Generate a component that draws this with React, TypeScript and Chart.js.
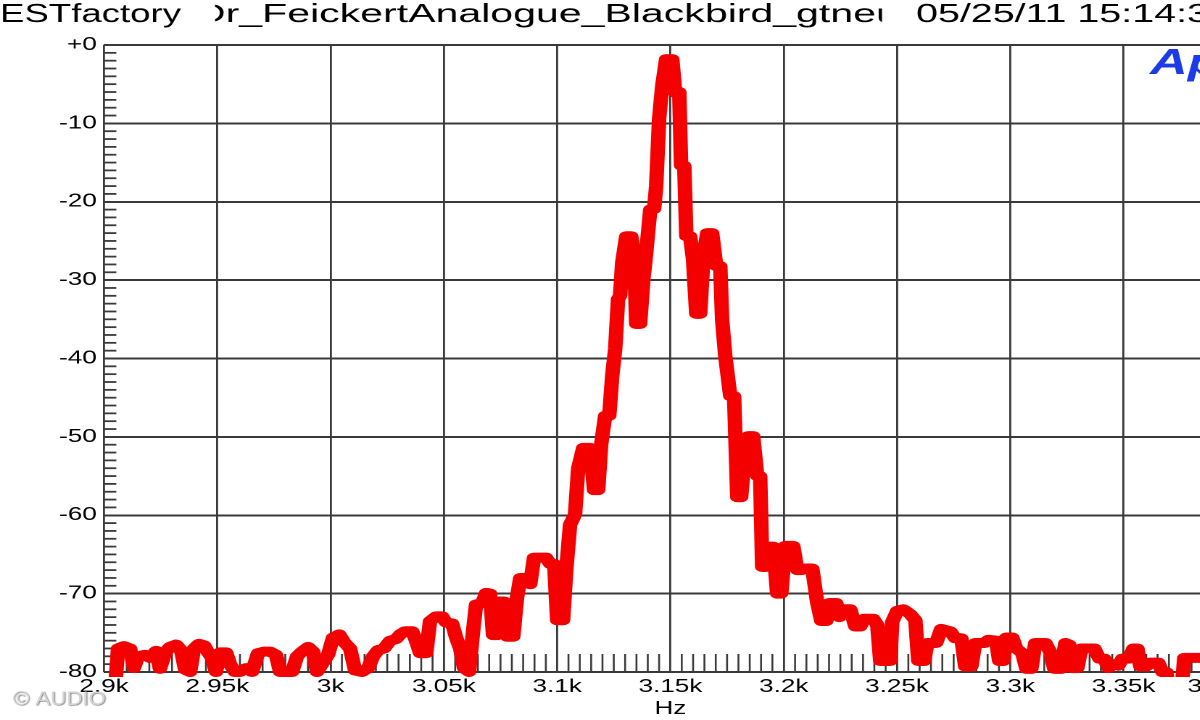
import React, { useEffect, useRef } from 'react';
import { Chart, registerables } from 'chart.js';

Chart.register(...registerables);

// ---------- data ----------
const FREQS: number[] = [
  2904.9, 2906.2, 2908.8, 2911.5, 2913.2, 2915.0, 2918.1, 2920.3, 2923.0, 2924.7,
  2926.9, 2929.1, 2931.8, 2934.0, 2935.8, 2938.0, 2939.7, 2941.9, 2944.2, 2945.9,
  2947.7, 2949.4, 2951.2, 2953.9, 2955.6, 2957.8, 2960.0, 2962.7, 2965.3, 2968.0,
  2970.6, 2973.3, 2975.9, 2977.7, 2980.4, 2983.0, 2985.2, 2987.4, 2990.1, 2992.3,
  2994.0, 2996.2, 2998.9, 3001.1, 3003.8, 3006.0, 3008.6, 3010.8, 3013.9, 3016.6,
  3018.8, 3021.0, 3023.6, 3026.3, 3028.9, 3030.7, 3032.9, 3036.0, 3037.7, 3039.5,
  3042.2, 3043.9, 3046.6, 3049.2, 3051.0, 3053.6, 3055.4, 3057.2, 3058.9, 3061.1,
  3062.9, 3064.2, 3066.9, 3068.7, 3070.4, 3071.7, 3073.5, 3074.4, 3076.6, 3077.9,
  3080.6, 3082.3, 3083.7, 3086.3, 3088.1, 3089.8, 3092.5, 3095.1, 3096.9, 3098.7,
  3100.0, 3102.6, 3104.0, 3105.7, 3107.9, 3109.3, 3111.5, 3114.6, 3116.3, 3118.1,
  3119.4, 3121.2, 3123.0, 3124.3, 3125.6, 3126.9, 3127.8, 3128.7, 3130.5, 3132.7,
  3134.0, 3134.9, 3136.6, 3138.0, 3139.3, 3141.1, 3142.8, 3143.7, 3145.0, 3146.4,
  3148.1, 3150.8, 3152.1, 3153.9, 3154.7, 3156.1, 3157.0, 3158.7, 3160.0, 3161.4,
  3163.1, 3164.5, 3166.2, 3168.4, 3170.2, 3172.0, 3172.8, 3174.2, 3176.4, 3178.1,
  3179.5, 3181.2, 3182.6, 3184.3, 3186.5, 3188.3, 3189.6, 3190.5, 3191.8, 3193.2,
  3195.4, 3197.1, 3198.9, 3200.7, 3204.2, 3206.0, 3207.7, 3209.5, 3212.6, 3214.8,
  3216.6, 3218.8, 3220.1, 3223.2, 3224.5, 3225.8, 3229.4, 3231.6, 3233.8, 3235.5,
  3239.5, 3241.3, 3242.6, 3247.0, 3247.9, 3250.1, 3252.8, 3255.8, 3258.1, 3259.4,
  3262.0, 3263.4, 3267.3, 3269.5, 3273.5, 3275.7, 3278.4, 3280.1, 3282.8, 3284.5,
  3288.5, 3290.3, 3293.8, 3295.1, 3296.9, 3298.2, 3300.9, 3302.6, 3305.3, 3307.1,
  3309.3, 3311.0, 3315.5, 3317.7, 3319.4, 3322.5, 3324.3, 3326.0, 3327.4, 3329.6,
  3331.3, 3337.1, 3339.3, 3341.5, 3343.3, 3345.5, 3347.7, 3349.4, 3352.5, 3354.3,
  3356.1, 3357.4, 3360.0, 3361.8, 3365.3, 3367.1, 3368.9, 3370.6, 3375.1, 3376.8,
  3383.9, 3390.5,
];

const LEVELS: number[] = [
  -82, -77, -76.7, -77, -79.5, -78, -77.8, -78.2, -77.3, -79.6,
  -77.6, -76.8, -76.5, -77.2, -79.7, -80, -77, -76.4, -76.6, -77.5,
  -78.2, -80, -77.5, -77.5, -79, -80, -80, -79.5, -80, -77.6,
  -77.4, -77.4, -77.8, -80, -80, -80, -78, -77.4, -76.8, -77.4,
  -80, -79, -77.8, -75.6, -75.2, -76.2, -77, -79.8, -80, -79.5,
  -78, -77.2, -77, -76, -75.8, -75.2, -74.8, -74.8, -76, -77.6,
  -77.6, -73.5, -72.9, -72.9, -73.7, -73.8, -75.6, -77, -79.5, -80,
  -74.8, -71.4, -71.2, -69.9, -70, -75.3, -75.3, -71, -71, -75.5,
  -75.5, -70.5, -68, -68, -68.8, -65.4, -65.4, -65.4, -66.2, -66.2,
  -73.4, -73.4, -67, -61.2, -59.9, -54, -51.4, -51.4, -56.8, -56.8,
  -51, -47.3, -47.3, -42.2, -38.8, -32.4, -32, -27.8, -24.4, -24.4,
  -27, -35.6, -35.6, -30, -26.5, -21, -20.9, -18, -9.4, -5.2,
  -1.8, -1.8, -6.1, -6, -15.4, -15.4, -24.4, -24.4, -27.4, -34.3,
  -34.3, -27.3, -24, -24, -28.2, -28.2, -35, -39.7, -44.8, -44.8,
  -57.7, -57.7, -52.8, -49.9, -49.9, -55, -55, -66.6, -66.6, -64,
  -64, -70, -70, -63.9, -63.9, -67, -67, -66.8, -66.8, -71.2,
  -73.5, -73.5, -71.2, -71.2, -73, -72, -72, -74.2, -74.2, -73.2,
  -73.2, -74, -78.6, -78.6, -73.6, -72.2, -72, -72.6, -73.4, -78.6,
  -78.6, -76.3, -76.3, -74.5, -74.8, -75.7, -75.7, -79.3, -79.3, -76.3,
  -76.3, -75.9, -76, -78.6, -78.6, -75.6, -75.6, -77, -77.6, -79.6,
  -79.6, -76.3, -76.3, -77.5, -79.6, -79.6, -76.3, -76.5, -79.5, -79.5,
  -77, -77, -78.3, -78.3, -79.5, -79, -79.2, -78.3, -78.3, -77,
  -77, -79.3, -79.3, -78.8, -78.8, -80, -80, -84, -84, -78.2,
  -78.2, -78.5,
];

const X_MIN = 2900;
const X_MAX = 3400;
const X_STEP = 50;
const X_MINOR_STEP = 5;
const Y_MIN = -80;
const Y_MAX = 0;
const Y_STEP = 10;
const Y_MINOR_STEP = 1;

const TITLE_LEFT = 'TESTfactory';
const TITLE_MIDDLE = 'Dr_FeickertAnalogue_Blackbird_gtneu';
const TITLE_RIGHT = '05/25/11 15:14:3';
const X_TITLE = 'Hz';
const LOGO_TEXT = 'Ap';
const WATERMARK = '\u00A9 AUDIO';

// ---------- styling ----------
const S = 1.45; // horizontal stretch of the reference picture
const CW = 880;
const CH = 720;
const FONT = "'Liberation Sans', Arial, Helvetica, sans-serif";
const GRID = '#3a3a3a';
const RED = '#f50000';
const X_TICK_PAD = 4;
const TICK_FONT_SIZE = 18;

const fmtX = (v: number) => String(Math.round(v) / 1000) + 'k';
const fmtY = (v: number) => (v === 0 ? '+0' : String(v));

function drawSpan(
  ctx: CanvasRenderingContext2D,
  text: string,
  prefix: string,
  span: string,
  x0: number,
  x1: number,
  baseline: number,
) {
  const wSpan = ctx.measureText(span).width;
  const k = (x1 - x0) / wSpan;
  const wPre = ctx.measureText(prefix).width * k;
  ctx.save();
  ctx.translate(x0 - wPre, baseline);
  ctx.scale(k, 1);
  ctx.fillText(text, 0, 0);
  ctx.restore();
}

const overlayPlugin = {
  id: 'apOverlay',
  beforeDatasetsDraw(chart: any) {
    const { ctx, chartArea, scales } = chart;
    const { left, bottom } = chartArea;
    const xs = scales.x;
    const ys = scales.y;
    ctx.save();
    ctx.strokeStyle = GRID;
    ctx.lineWidth = 1.8;
    for (let v = Y_MIN; v <= Y_MAX; v += Y_MINOR_STEP) {
      if (v % Y_STEP === 0) continue;
      const py = ys.getPixelForValue(v);
      ctx.beginPath();
      ctx.moveTo(left, py);
      ctx.lineTo(left + 8.5, py);
      ctx.stroke();
    }
    ctx.lineWidth = 1.3;
    for (let f = X_MIN; f <= X_MAX; f += X_MINOR_STEP) {
      if (f % X_STEP === 0) continue;
      const px = xs.getPixelForValue(f);
      ctx.beginPath();
      ctx.moveTo(px, bottom);
      ctx.lineTo(px, bottom - 18);
      ctx.stroke();
    }
    ctx.restore();
  },
  afterDraw(chart: any) {
    const { ctx, chartArea, scales } = chart;
    ctx.save();
    ctx.fillStyle = '#000';
    ctx.textBaseline = 'alphabetic';
    ctx.textAlign = 'left';
    ctx.font = `26px ${FONT}`;
    // title fields
    drawSpan(ctx, TITLE_LEFT, 'T', 'ESTfactory', 0, 181 / S, 22);
    ctx.save();
    ctx.beginPath();
    ctx.rect(215 / S, 0, (882 - 215) / S, 40);
    ctx.clip();
    drawSpan(ctx, TITLE_MIDDLE, '', 'Dr_FeickertAnalogue_Blackbird_gtne', 196 / S, 876 / S, 22);
    ctx.restore();
    drawSpan(ctx, TITLE_RIGHT, '', '05/25/11 15:14:', 916 / S, 1187 / S, 22);

    // last x tick label, right-aligned at the axis end
    ctx.font = `${TICK_FONT_SIZE}px ${FONT}`;
    ctx.textAlign = 'right';
    ctx.textBaseline = 'middle';
    ctx.fillStyle = '#000';
    ctx.fillText(
      fmtX(X_MAX),
      scales.x.getPixelForValue(X_MAX),
      chartArea.bottom + X_TICK_PAD + (TICK_FONT_SIZE * 1.2) / 2,
    );

    // logo
    ctx.textAlign = 'left';
    ctx.textBaseline = 'alphabetic';
    ctx.font = `italic bold 36px ${FONT}`;
    ctx.fillStyle = '#1a3be6';
    ctx.fillText(LOGO_TEXT, 1150 / S, 74);

    // watermark
    ctx.font = `19px ${FONT}`;
    ctx.shadowColor = 'rgba(0,0,0,0.6)';
    ctx.shadowBlur = 2;
    ctx.shadowOffsetX = 1;
    ctx.shadowOffsetY = 1;
    ctx.fillStyle = '#d4d4d4';
    drawSpan(ctx, WATERMARK, '', WATERMARK, 13 / S, 106 / S, 705);
    ctx.restore();
  },
};

export default function App() {
  const canvasRef = useRef<HTMLCanvasElement | null>(null);

  useEffect(() => {
    const canvas = canvasRef.current;
    if (!canvas) return;
    const points = FREQS.map((f, i) => ({ x: f, y: LEVELS[i] }));
    const chart = new Chart(canvas, {
      type: 'line',
      data: {
        datasets: [
          {
            data: points,
            borderColor: RED,
            backgroundColor: RED,
            borderWidth: 10,
            pointRadius: 0,
            tension: 0,
            borderJoinStyle: 'round',
            borderCapStyle: 'round',
            fill: false,
            clip: { left: 0, top: 8, right: 0, bottom: 5 },
          } as any,
        ],
      },
      options: {
        responsive: false,
        animation: false,
        devicePixelRatio: 2,
        layout: { padding: { left: 0, top: 45, right: CW - 853, bottom: 0 } },
        plugins: {
          legend: { display: false },
          tooltip: { enabled: false },
          title: { display: false },
        },
        scales: {
          x: {
            type: 'linear',
            min: X_MIN,
            max: X_MAX,
            ticks: {
              stepSize: X_STEP,
              autoSkip: false,
              maxRotation: 0,
              minRotation: 0,
              padding: X_TICK_PAD,
              color: '#000',
              font: { family: FONT, size: TICK_FONT_SIZE },
              callback: (v: any) => (Number(v) === X_MAX ? '' : fmtX(Number(v))),
            },
            grid: { color: GRID, lineWidth: 1.4, drawTicks: false },
            border: { display: false },
            title: {
              display: true,
              text: X_TITLE,
              color: '#000',
              font: { family: FONT, size: 18 },
              padding: { top: 0, bottom: 0 },
            },
            afterFit: (s: any) => {
              s.height = CH - 672;
            },
          },
          y: {
            type: 'linear',
            min: Y_MIN,
            max: Y_MAX,
            ticks: {
              stepSize: Y_STEP,
              padding: 5,
              color: '#000',
              font: { family: FONT, size: TICK_FONT_SIZE },
              callback: (v: any) => fmtY(Number(v)),
            },
            grid: { color: GRID, lineWidth: 2, drawTicks: false },
            border: { display: false },
            afterFit: (s: any) => {
              s.width = 104 / S;
            },
          },
        },
      } as any,
      plugins: [overlayPlugin],
    });
    return () => chart.destroy();
  }, []);

  return (
    <div
      style={{
        position: 'fixed',
        left: 0,
        top: 0,
        width: 1200,
        height: 720,
        overflow: 'hidden',
        background: '#fff',
      }}
    >
      <div
        style={{
          position: 'absolute',
          left: 0,
          top: 0,
          width: CW,
          height: CH,
          transform: `scaleX(${S})`,
          transformOrigin: '0 0',
        }}
      >
        <canvas
          ref={canvasRef}
          width={CW}
          height={CH}
          style={{ display: 'block', width: CW, height: CH }}
        />
      </div>
    </div>
  );
}
